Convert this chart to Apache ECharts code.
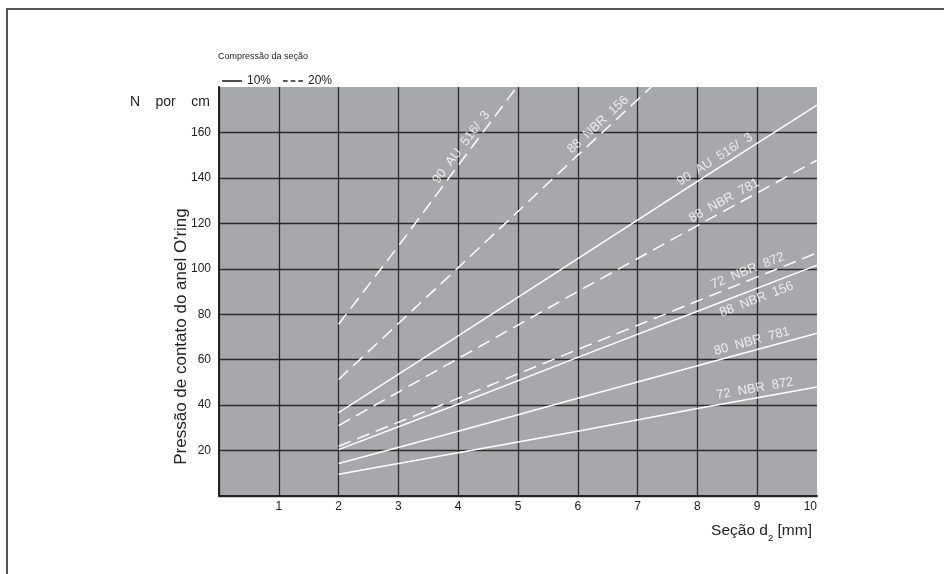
<!DOCTYPE html>
<html><head><meta charset="utf-8">
<script src="https://cdn.jsdelivr.net/npm/echarts@6/dist/echarts.min.js"></script>
<style>
html,body{margin:0;padding:0;background:#fff;}
#wrap{position:relative;width:944px;height:574px;overflow:hidden;background:#fff;}
#frame{position:absolute;left:6px;top:8px;width:960px;height:600px;border-top:2px solid #555;border-left:2px solid #555;}
#chart{position:absolute;left:0;top:0;width:944px;height:574px;}
</style></head><body>
<div id="wrap"><div id="frame"></div><div id="chart"></div></div>
<script>
const FONT = "'Liberation Sans Narrow','Arial Narrow','Liberation Sans',Arial,sans-serif";

// x values: section d2 [mm]; y values: contact pressure [N per cm]
const secA = [2, 4, 6, 8, 10];
const nbr872_72_10 = [9.6, 19.0, 28.5, 38.5, 48.0];
const nbr781_80_10 = [14.3, 28.5, 43.0, 57.3, 71.6];
const nbr156_88_10 = [20.4, 40.5, 61.0, 81.3, 101.6];
const au516_90_10  = [36.7, 70.5, 104.5, 138.5, 172.0];

const nbr872_72_20 = [21.9, 43.0, 64.5, 85.8, 107.0];
const nbr781_88_20 = [31.0, 60.5, 90.0, 119.0, 147.8];
const secB = [2, 4, 6, 7.23];
const nbr156_88_20 = [51.3, 100.5, 150.0, 180.0];
const secC = [2, 3, 4, 4.98];
const au516_90_20  = [75.6, 110.0, 145.5, 180.0];

const lines = [
  {group: '10%', x: secA, y: nbr872_72_10},
  {group: '10%', x: secA, y: nbr781_80_10},
  {group: '10%', x: secA, y: nbr156_88_10},
  {group: '10%', x: secA, y: au516_90_10},
  {group: '20%', x: secA, y: nbr872_72_20},
  {group: '20%', x: secA, y: nbr781_88_20},
  {group: '20%', x: secB, y: nbr156_88_20},
  {group: '20%', x: secC, y: au516_90_20}
];

const labelTexts = ['72  NBR  872', '80  NBR  781', '88  NBR  156', '90  AU  516/  3',
                    '72  NBR  872', '88  NBR  781', '88  NBR  156', '90  AU  516/  3'];
// label placement along each line (x in mm) and side of the line
const labelAt   = [8.98, 8.94, 8.95, 8.35, 8.88, 8.5, 6.41, 4.14];
const labelSide = ['top', 'top', 'bottom', 'top', 'top', 'top', 'top', 'top'];

const xMin = 0, xMax = 10, xStep = 1;
const yMin = 0, yMax = 180, yStep = 20;

const chart = echarts.init(document.getElementById('chart'), null, {renderer: 'canvas'});

const lineSeries = lines.map(l => ({
  name: l.group,
  type: 'line',
  symbol: 'none',
  silent: true,
  clip: true,
  z: 3,
  data: l.x.map((xv, i) => [xv, l.y[i]]),
  lineStyle: {color: '#ffffff', width: 1.5, type: l.group === '20%' ? [13, 7] : 'solid'},
  itemStyle: {color: '#ffffff'}
}));

chart.setOption({
  animation: false,
  backgroundColor: 'transparent',
  textStyle: {fontFamily: FONT},
  title: {
    text: 'Compressão da seção',
    left: 213, top: 47,
    textStyle: {fontSize: 9, fontWeight: 'normal', color: '#222', fontFamily: FONT}
  },
  legend: {
    left: 217, top: 70,
    itemWidth: 20, itemHeight: 1.6, itemGap: 12,
    selectedMode: false,
    textStyle: {fontSize: 12, color: '#222', fontFamily: FONT},
    itemStyle: {color: '#222', borderWidth: 0},
    data: [
      {name: '10%', icon: 'rect', itemStyle: {color: '#222'}},
      {name: '20%', icon: 'path://M0,0h6v2h-6zM10,0h6v2h-6zM20,0h6v2h-6z', itemStyle: {color: '#222'}}
    ]
  },
  grid: {
    left: 219, right: 127, top: 87, bottom: 78,
    show: true, backgroundColor: '#a7a8ab', borderWidth: 0
  },
  xAxis: {
    type: 'value', min: xMin, max: xMax, interval: xStep,
    name: 'Seção d{sub|2} [mm]',
    nameLocation: 'end', nameGap: -5,
    nameTextStyle: {
      fontSize: 15.5, color: '#222', fontFamily: FONT,
      align: 'right', verticalAlign: 'top', padding: [27, 0, 0, 0],
      rich: {sub: {fontSize: 9.5, color: '#222', fontFamily: FONT, verticalAlign: 'bottom', padding: [0, 0, -4, 0]}}
    },
    axisLine: {show: true, lineStyle: {color: '#222', width: 2}},
    axisTick: {show: false},
    axisLabel: {
      color: '#222', fontSize: 12, fontFamily: FONT, margin: 5,
      alignMaxLabel: 'right',
      formatter: v => v === 0 ? '' : String(v)
    },
    splitLine: {show: true, showMaxLine: false, lineStyle: {color: '#2b2b2b', width: 1.3}}
  },
  yAxis: [{
    type: 'value', min: yMin, max: yMax, interval: yStep,
    name: 'N    por    cm',
    nameLocation: 'end', nameGap: -15,
    nameTextStyle: {fontSize: 14, color: '#222', fontFamily: FONT, align: 'right', verticalAlign: 'middle', padding: [0, 9, 0, 0]},
    axisLine: {show: true, lineStyle: {color: '#222', width: 2}},
    axisTick: {show: false},
    axisLabel: {
      color: '#222', fontSize: 12, fontFamily: FONT, margin: 8,
      formatter: v => (v === yMin || v === yMax) ? '' : String(v)
    },
    splitLine: {show: true, showMaxLine: false, lineStyle: {color: '#2b2b2b', width: 1.3}}
  }, {
    type: 'value', min: yMin, max: yMax, interval: yStep, position: 'left',
    name: "Pressão de contato do anel O'ring",
    nameLocation: 'middle', nameGap: 29,
    nameTextStyle: {fontSize: 17, color: '#222', fontFamily: FONT, padding: [0, 90, 0, 0]},
    axisLine: {show: false}, axisTick: {show: false}, axisLabel: {show: false}, splitLine: {show: false}
  }],
  series: lineSeries
});

// place rotated line labels along their lines
function yOnLine(l, xv) {
  for (let i = 0; i < l.x.length - 1; i++) {
    if (xv >= l.x[i] && xv <= l.x[i + 1]) {
      const t = (xv - l.x[i]) / (l.x[i + 1] - l.x[i]);
      return {y: l.y[i] + t * (l.y[i + 1] - l.y[i]), i: i};
    }
  }
  return {y: l.y[l.y.length - 1], i: l.x.length - 2};
}
const labelData = lines.map((l, k) => {
  const xv = labelAt[k];
  const r = yOnLine(l, xv);
  const p1 = chart.convertToPixel({gridIndex: 0}, [l.x[r.i], l.y[r.i]]);
  const p2 = chart.convertToPixel({gridIndex: 0}, [l.x[r.i + 1], l.y[r.i + 1]]);
  const ang = -Math.atan2(p2[1] - p1[1], p2[0] - p1[0]) * 180 / Math.PI;
  return {
    value: [xv, r.y],
    name: labelTexts[k],
    label: {rotate: ang, position: labelSide[k], distance: labelSide[k] === 'top' ? 3 : 4}
  };
});

chart.setOption({
  series: lineSeries.concat([{
    name: 'labels',
    type: 'scatter',
    symbolSize: 0,
    silent: true,
    z: 4,
    data: labelData,
    label: {show: true, color: '#ffffff', fontSize: 13, fontFamily: FONT, formatter: p => p.name}
  }])
});
</script></body></html>
